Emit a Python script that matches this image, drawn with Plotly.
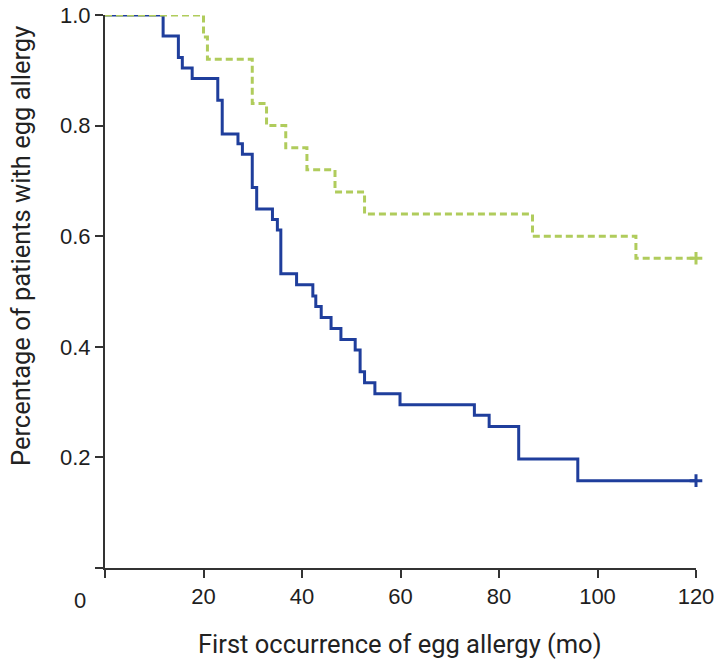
import plotly.graph_objects as go

# Blue (solid) Kaplan-Meier curve
blue_months = [0, 11.8, 14.9, 15.7, 17.7, 22.9, 23.8, 27.0, 27.9, 29.9, 30.8, 34.0, 35.0, 35.7,
               38.9, 42.2, 42.8, 43.9, 45.9, 47.9, 50.8, 51.8, 52.7, 54.8, 59.9, 75.0, 78.0,
               84.0, 96.0, 120.0]
blue_surv = [1.0, 0.962, 0.923, 0.904, 0.885, 0.846, 0.785, 0.767, 0.748, 0.688, 0.649, 0.630,
             0.611, 0.532, 0.512, 0.492, 0.473, 0.453, 0.433, 0.413, 0.394, 0.355, 0.335, 0.315,
             0.295, 0.276, 0.256, 0.197, 0.158, 0.158]

# Green (dashed) Kaplan-Meier curve
green_months = [0, 20.0, 20.8, 29.9, 32.8, 36.7, 41.0, 46.7, 52.7, 86.8, 107.8, 120.0]
green_surv = [1.0, 0.96, 0.92, 0.84, 0.80, 0.76, 0.72, 0.68, 0.64, 0.60, 0.56, 0.56]

x_ticks = [0, 20, 40, 60, 80, 100, 120]
x_tick_labels = ["", "20", "40", "60", "80", "100", "120"]
y_ticks = [0, 0.2, 0.4, 0.6, 0.8, 1.0]
y_tick_labels = ["", "0.2", "0.4", "0.6", "0.8", "1.0"]

BLUE = "#1f3e9c"
GREEN = "#b0cc5c"

fig = go.Figure()
fig.add_trace(go.Scatter(x=blue_months, y=blue_surv, mode="lines", line_shape="hv",
                         line=dict(color=BLUE, width=3), showlegend=False, cliponaxis=False))
fig.add_trace(go.Scatter(x=green_months, y=green_surv, mode="lines", line_shape="hv",
                         line=dict(color=GREEN, width=3, dash="7px,4px"), showlegend=False,
                         cliponaxis=False))
fig.add_trace(go.Scatter(x=[green_months[-1]], y=[green_surv[-1]], mode="markers",
                         marker=dict(symbol="cross-thin", size=9, line=dict(color=GREEN, width=3)),
                         showlegend=False, cliponaxis=False))
fig.add_trace(go.Scatter(x=[blue_months[-1]], y=[blue_surv[-1]], mode="markers",
                         marker=dict(symbol="cross-thin", size=9, line=dict(color=BLUE, width=3)),
                         showlegend=False, cliponaxis=False))

W, H = 719, 661
L, T = 105, 15
pw, ph = 591, 553
R, B = W - L - pw, H - T - ph


def px_x(page_x):
    return (page_x - L) / pw


def px_y(page_y):
    return 1 - (page_y - T) / ph


TITLE_FONT = dict(family="Roboto, sans-serif", size=25.5, color="#222")
TICK_SIZE = 22

fig.update_layout(
    width=W, height=H,
    margin=dict(l=L, r=R, t=T, b=B, autoexpand=False),
    plot_bgcolor="white", paper_bgcolor="white",
    font=dict(family="Liberation Sans, Arial, sans-serif", size=20, color="#1e1e1e"),
    xaxis=dict(range=[0, 120], tickvals=x_ticks, ticktext=x_tick_labels, showgrid=False,
               zeroline=False, showline=True, linecolor="#333", linewidth=2, automargin=False,
               ticks="outside", ticklen=8, tickwidth=2, tickcolor="#333",
               ticklabeloverflow="allow", tickfont=dict(size=TICK_SIZE)),
    yaxis=dict(range=[0, 1.0], tickvals=y_ticks, ticktext=y_tick_labels, showgrid=False,
               zeroline=False, showline=True, linecolor="#333", linewidth=2, automargin=False,
               ticks="outside", ticklen=8, tickwidth=2, tickcolor="#333",
               ticklabeloverflow="allow", tickfont=dict(size=TICK_SIZE)),
    annotations=[
        dict(text="0", xref="paper", yref="paper", x=px_x(80), y=px_y(600),
             showarrow=False, font=dict(size=TICK_SIZE, color="#1e1e1e"),
             xanchor="center", yanchor="middle"),
        dict(text="First occurrence of egg allergy (mo)", xref="paper", yref="paper",
             x=px_x(400), y=px_y(644), showarrow=False, font=TITLE_FONT,
             xanchor="center", yanchor="middle"),
        dict(text="Percentage of patients with egg allergy", xref="paper", yref="paper",
             x=px_x(21), y=px_y(246), showarrow=False, textangle=-90, font=TITLE_FONT,
             xanchor="center", yanchor="middle"),
    ],
)

fig.write_html("out.html", config={"displayModeBar": False},
               post_script="document.body.style.margin='0px';document.body.style.overflow='hidden';")
